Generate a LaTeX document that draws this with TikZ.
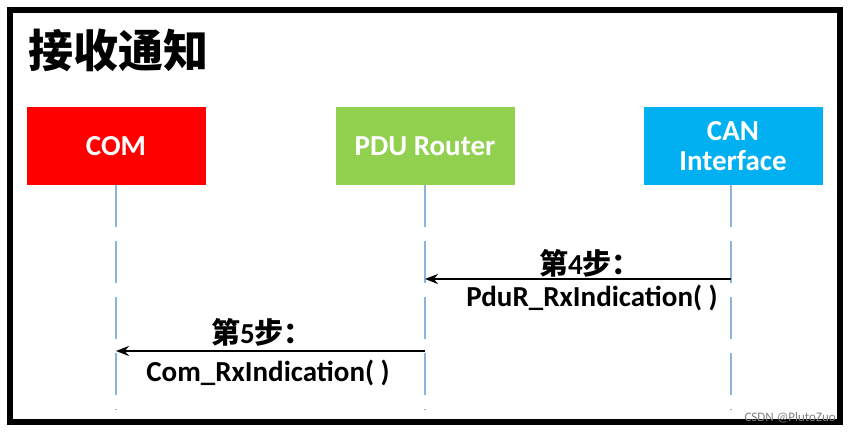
\documentclass[tikz,border=0pt]{standalone}
\usepackage{fontspec}
\setmainfont{Carlito}
\newfontfamily\cjk{Noto Sans CJK SC}
\usetikzlibrary{arrows.meta}
\definecolor{comred}{HTML}{FF0000}
\definecolor{pdugreen}{HTML}{92D050}
\definecolor{canblue}{HTML}{00B0F0}
\definecolor{lifeblue}{HTML}{8FB4DC}
\begin{document}
\begin{tikzpicture}[x=1pt,y=-1pt,
  box/.style={minimum width=179pt,minimum height=78pt,inner sep=0pt,text=white,
    font=\bfseries\fontsize{29}{34}\selectfont,align=center},
  life/.style={lifeblue,line width=1.2pt,dash pattern=on 42pt off 14pt},
  msg/.style={line width=1.8pt,-{Stealth[length=13pt,width=10pt]}},
  lbl/.style={font=\bfseries\fontsize{29}{34}\selectfont,inner sep=0pt}]
\useasboundingbox (0,0) rectangle (851,435);
\fill[white] (0,0) rectangle (851,435);
\draw[line width=6pt] (10,10) rectangle (840,422);
\node[anchor=west,font=\cjk\bfseries\fontsize{45}{50}\selectfont,inner sep=0pt] (title) at (28,50) {接收通知};
\node[box,fill=comred] (com) at (116,146) {COM};
\node[box,fill=pdugreen] (pdu) at (425,146) {PDU Router};
\node[box,fill=canblue] (can) at (733,146) {CAN\\[-4pt]Interface};
\coordinate (comEnd) at (116,410);
\coordinate (pduEnd) at (425,410);
\coordinate (canEnd) at (731,410);
\draw[life] (com.south) -- (comEnd);
\draw[life] (pdu.south) -- (pduEnd);
\draw[life] (731,185) -- (canEnd);
\coordinate (a1s) at (731,279);
\coordinate (a1e) at (425,279);
\coordinate (a2s) at (425,351);
\coordinate (a2e) at (116,351);
\draw[msg] (a1s) -- (a1e);
\draw[msg] (a2s) -- (a2e);
\node[lbl] (s4) at (590,263) {{\cjk 第}4{\cjk 步：}};
\node[lbl] (f4) at (592,298) {PduR\_RxIndication( )};
\node[lbl] (s5) at (262,332) {{\cjk 第}5{\cjk 步：}};
\node[lbl] (f5) at (268,373) {Com\_RxIndication( )};
\node[anchor=east,text=gray,font=\fontsize{13}{15}\selectfont,inner sep=0pt] (wm) at (836,418) {CSDN @PlutoZuo};
\end{tikzpicture}
\end{document}
